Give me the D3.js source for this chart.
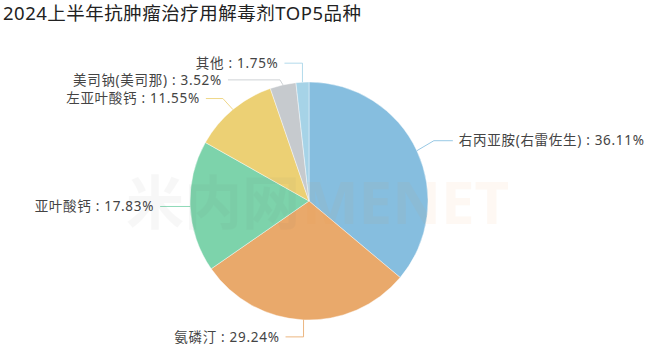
<!DOCTYPE html>
<html>
<head>
<meta charset="utf-8">
<script src="https://cdn.jsdelivr.net/npm/d3@7/dist/d3.min.js"></script>
<style>
  html, body { margin: 0; padding: 0; background: #fff; }
  svg { display: block; }
  text { font-family: "Noto Sans", "Noto Sans CJK SC", sans-serif; }
</style>
</head>
<body>
<svg id="chart" width="662" height="354"></svg>
<script>
// Antitumour detoxicant products, share of sales, H1 2024
const title = "2024上半年抗肿瘤治疗用解毒剂TOP5品种";
const categories = ["右丙亚胺(右雷佐生)", "氨磷汀", "亚叶酸钙", "左亚叶酸钙", "美司钠(美司那)", "其他"];
const shares = [36.11, 29.24, 17.83, 11.55, 3.52, 1.75];
const colors = ["#86bedf", "#e9a96b", "#7dd3ab", "#ecd074", "#c6cace", "#a6d3e7"];

// Guide-line layout per slice: elbow offset from the rim point, horizontal run length
const guides = [
  { dx: 17, dy: -10, run: 19 },
  { dx: 0, dy: 17, run: -18 },
  { dx: 0, dy: 0, run: -30 },
  { dx: -10, dy: -11, run: -17 },
  { dx: -3, dy: -5, run: -52 },
  { dx: 0, dy: -19, run: -18 }
];

const svg = d3.select("#chart");
const cx = 309, cy = 201, radius = 119;

svg.append("text")
  .attr("x", 3).attr("y", 20)
  .attr("font-size", 18.5)
  .attr("letter-spacing", 0.5)
  .attr("fill", "#222")
  .text(title);

const data = categories.map((name, i) => ({ name, value: shares[i], color: colors[i], guide: guides[i] }));

const pie = d3.pie().sort(null).value(d => d.value).startAngle(0).endAngle(2 * Math.PI);
const arcs = pie(data);
const arc = d3.arc().innerRadius(0).outerRadius(radius);

const g = svg.append("g").attr("transform", `translate(${cx},${cy})`);

g.selectAll("path.slice")
  .data(arcs)
  .join("path")
  .attr("class", "slice")
  .attr("d", arc)
  .attr("fill", d => d.data.color)
  .attr("stroke", "#fff")
  .attr("stroke-width", 0.6)
  .attr("stroke-opacity", 0.7);

// Faint brand watermark over the pie
const wm = svg.append("g").attr("pointer-events", "none");
wm.append("text")
  .attr("x", 126).attr("y", 224)
  .attr("font-size", 58).attr("font-weight", 700)
  .attr("fill", "#666").attr("opacity", 0.045)
  .attr("font-family", "Noto Sans CJK SC, sans-serif")
  .text("米内网");
wm.append("text")
  .attr("x", 302).attr("y", 224)
  .attr("font-size", 60).attr("font-weight", 700)
  .attr("fill", "#f0882e").attr("opacity", 0.05)
  .attr("font-family", "Lato, sans-serif")
  .text("MENET");

// Labels with elbow guide lines
const labels = g.selectAll("g.label").data(arcs).join("g").attr("class", "label");

labels.each(function(d) {
  const mid = (d.startAngle + d.endAngle) / 2;
  const p0 = [radius * Math.sin(mid), -radius * Math.cos(mid)];
  const p1 = [p0[0] + d.data.guide.dx, p0[1] + d.data.guide.dy];
  const p2 = [p1[0] + d.data.guide.run, p1[1]];
  const right = d.data.guide.run > 0;
  const sel = d3.select(this);
  sel.append("path")
    .attr("d", d3.line()([p0, p1, p2]))
    .attr("fill", "none")
    .attr("stroke", d.data.color)
    .attr("stroke-opacity", 0.85)
    .attr("stroke-width", 1);
  sel.append("text")
    .attr("x", p2[0] + (right ? 6 : -6))
    .attr("y", p2[1])
    .attr("dy", "0.35em")
    .attr("text-anchor", right ? "start" : "end")
    .attr("font-size", 13.5)
    .attr("letter-spacing", 0.7)
    .attr("fill", "#444")
    .text(`${d.data.name} : ${d3.format(".2f")(d.data.value)}%`);
});
</script>
</body>
</html>
